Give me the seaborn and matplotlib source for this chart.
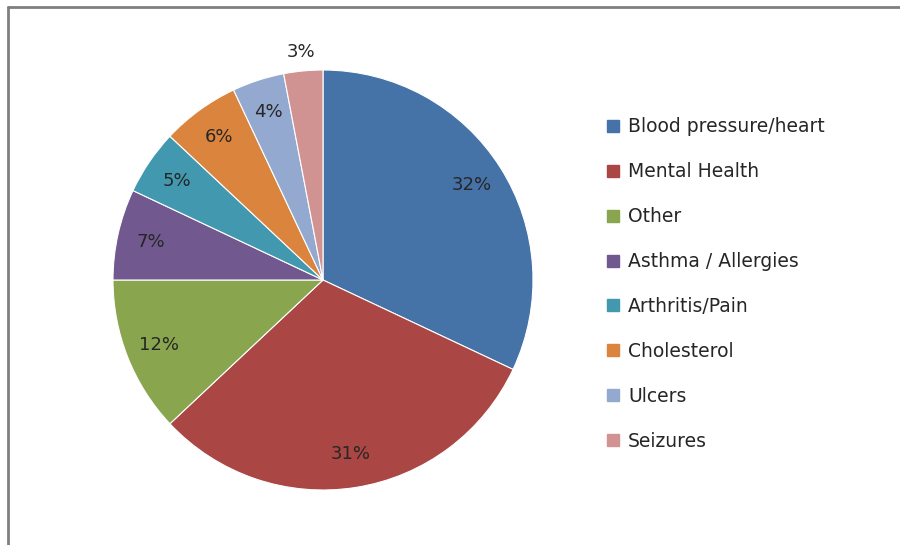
import matplotlib
matplotlib.use("Agg")
import matplotlib.pyplot as plt
import numpy as np
import seaborn as sns
from matplotlib.lines import Line2D

# chart data
categories = [
    "Blood pressure/heart",
    "Mental Health",
    "Other",
    "Asthma / Allergies",
    "Arthritis/Pain",
    "Cholesterol",
    "Ulcers",
    "Seizures",
]
shares = [32, 31, 12, 7, 5, 6, 4, 3]
pct_labels = ["32%", "31%", "12%", "7%", "5%", "6%", "4%", "3%"]
slice_colors = ["#4572A7", "#AA4643", "#89A54E", "#71588F",
                "#4198AF", "#DB843D", "#93A9CF", "#D19392"]

sns.set_theme(style="white")
plt.rcParams["font.family"] = ["DejaVu Sans"]
palette = sns.color_palette(slice_colors)

fig = plt.figure(figsize=(9, 5.45), dpi=100)
ax = fig.add_axes([113 / 900, 55 / 545, 420 / 900, 420 / 545])

wedges, _ = ax.pie(
    shares,
    colors=palette,
    startangle=90,
    counterclock=False,
    wedgeprops=dict(edgecolor="white", linewidth=0.8),
)
ax.set_aspect("equal")
ax.set_xlim(-1, 1)
ax.set_ylim(-1, 1)

# percentage labels at the middle angle of each wedge
for w, txt in zip(wedges, pct_labels):
    mid = np.deg2rad((w.theta1 + w.theta2) / 2)
    dist = 1.09 if txt == "3%" else 0.84
    ax.text(dist * np.cos(mid), dist * np.sin(mid), txt,
            ha="center", va="center", fontsize=13, color="#262626")

handles = [Line2D([0], [0], marker="s", linestyle="", markersize=8,
                  markerfacecolor=c, markeredgecolor=c) for c in palette]
fig.legend(handles, categories, loc="upper left",
           bbox_to_anchor=(598 / 900, 1 - 110 / 545), frameon=False,
           fontsize=13.5, labelspacing=1.38, handlelength=0.8,
           handletextpad=0.4, borderaxespad=0)

# frame lines of the original screenshot (top and left only)
fig.add_artist(Line2D([8 / 900, 1], [1 - 7 / 545, 1 - 7 / 545],
                      transform=fig.transFigure, color="#7f7f7f", linewidth=2))
fig.add_artist(Line2D([8 / 900, 8 / 900], [0, 1 - 7 / 545],
                      transform=fig.transFigure, color="#7f7f7f", linewidth=2))

fig.savefig("out.png", dpi=100)
